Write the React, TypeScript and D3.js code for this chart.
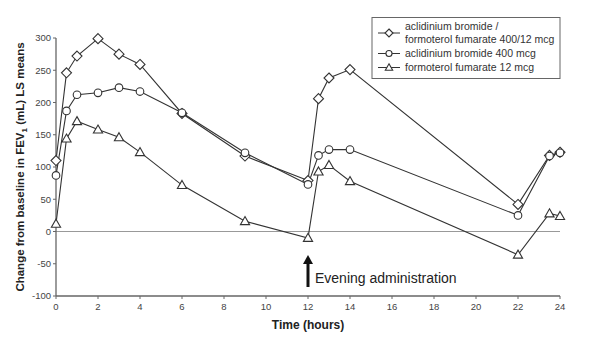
import React from "react";
import * as d3 from "d3";

const times = [0, 0.5, 1, 2, 3, 4, 6, 9, 12, 12.5, 13, 14, 22, 23.5, 24];
const comboValues = [110, 246, 272, 299, 275, 259, 183, 117, 79, 206, 238, 251, 42, 118, 123];
const aclidiniumValues = [87, 187, 212, 215, 223, 217, 184, 122, 73, 118, 127, 127, 25, 117, 122];
const formoterolValues = [12, 144, 171, 158, 146, 123, 72, 16, -10, 93, 103, 78, -36, 28, 24];
const xTicks = [0, 2, 4, 6, 8, 10, 12, 14, 16, 18, 20, 22, 24];
const yTicks = [-100, -50, 0, 50, 100, 150, 200, 250, 300];
const legendLabels = [
  ["aclidinium bromide /", "formoterol fumarate 400/12 mcg"],
  ["aclidinium bromide 400 mcg"],
  ["formoterol fumarate 12 mcg"],
];
const markerTypes = ["diamond", "circle", "triangle"];

const W = 592, H = 338;
const x = d3.scaleLinear().domain([0, 24]).range([56, 560]);
const y = d3.scaleLinear().domain([-100, 300]).range([296, 38]);

const ink = "#333";
const axisCol = "#666";
const font = "Liberation Sans, Arial, sans-serif";

function Marker({ type, cx, cy, k = 1 }: { type: string; cx: number; cy: number; k?: number }) {
  if (type === "diamond") {
    const r = 5 * k;
    return <path d={`M${cx},${cy - r}L${cx + r},${cy}L${cx},${cy + r}L${cx - r},${cy}Z`} fill="#fff" stroke={ink} strokeWidth={1.1} />;
  }
  if (type === "circle") {
    return <circle cx={cx} cy={cy} r={3.8 * k} fill="#fff" stroke={ink} strokeWidth={1.1} />;
  }
  const s = 4.6 * k;
  return <path d={`M${cx},${cy - s}L${cx + s},${cy + s * 0.75}L${cx - s},${cy + s * 0.75}Z`} fill="#fff" stroke={ink} strokeWidth={1.1} />;
}

export default function App() {
  const series = [comboValues, aclidiniumValues, formoterolValues];
  const line = d3.line<[number, number]>().x((d) => x(d[0])).y((d) => y(d[1]));
  const legendRows = [33, 53.5, 67.5];
  return (
    <svg width={W} height={H} style={{ position: "absolute", left: 0, top: 0, background: "#fff" }} fontFamily={font}>
      <rect width={W} height={H} fill="#fff" />
      {/* zero line */}
      <line x1={x(0)} x2={x(24)} y1={y(0)} y2={y(0)} stroke="#999" strokeWidth={1} />
      {/* axes */}
      <line x1={x(0)} x2={x(0)} y1={y(300)} y2={y(-100)} stroke={axisCol} strokeWidth={1.3} />
      <line x1={x(0)} x2={x(24)} y1={y(-100)} y2={y(-100)} stroke={axisCol} strokeWidth={1.3} />
      {yTicks.map((t) => (
        <g key={"y" + t}>
          <line x1={x(0) - 3} x2={x(0)} y1={y(t)} y2={y(t)} stroke={axisCol} />
          <text x={x(0) - 5} y={y(t)} dy="0.35em" textAnchor="end" fontSize={9.5} fill="#444">{t}</text>
        </g>
      ))}
      {xTicks.map((t) => (
        <g key={"x" + t}>
          <line x1={x(t)} x2={x(t)} y1={y(-100)} y2={y(-100) + 3} stroke={axisCol} />
          <text x={x(t)} y={y(-100) + 14} textAnchor="middle" fontSize={9.5} fill="#444">{t}</text>
        </g>
      ))}
      <text x={308} y={329} textAnchor="middle" fontSize={12} fontWeight="bold" fill="#222">Time (hours)</text>
      <text transform={`translate(24,${y(100)}) rotate(-90)`} textAnchor="middle" fontSize={11.5} fontWeight="bold" fill="#222">
        Change from baseline in FEV<tspan fontSize={8} dy={3}>1</tspan><tspan dy={-3}> (mL) LS means</tspan>
      </text>
      {/* series */}
      {series.map((vals, i) => (
        <path key={"l" + i} d={line(times.map((t, j) => [t, vals[j]]) as [number, number][]) || ""} fill="none" stroke={ink} strokeWidth={1.1} />
      ))}
      {series.map((vals, i) =>
        times.map((t, j) => <Marker key={`m${i}-${j}`} type={markerTypes[i]} cx={x(t)} cy={y(vals[j])} />)
      )}
      {/* arrow */}
      <line x1={x(12)} x2={x(12)} y1={287} y2={263} stroke="#111" strokeWidth={3} />
      <path d={`M${x(12) - 5},${264}L${x(12)},${255}L${x(12) + 5},${264}Z`} fill="#111" />
      <text x={315} y={283} fontSize={14} fill="#222">Evening administration</text>
      {/* legend */}
      <rect x={372} y={17.5} width={188} height={61} fill="#fff" stroke="#666" strokeWidth={1} />
      {legendLabels.map((lines, i) => (
        <g key={"lg" + i}>
          <line x1={378} x2={400} y1={legendRows[i]} y2={legendRows[i]} stroke={ink} strokeWidth={1} />
          <Marker type={markerTypes[i]} cx={389} cy={legendRows[i]} k={0.8} />
          {lines.map((s, k) => (
            <text key={k} x={405} y={lines.length > 1 ? legendRows[i] - 6.5 + k * 13 : legendRows[i]} dy="0.35em" fontSize={10.5} fill="#333">{s}</text>
          ))}
        </g>
      ))}
    </svg>
  );
}
